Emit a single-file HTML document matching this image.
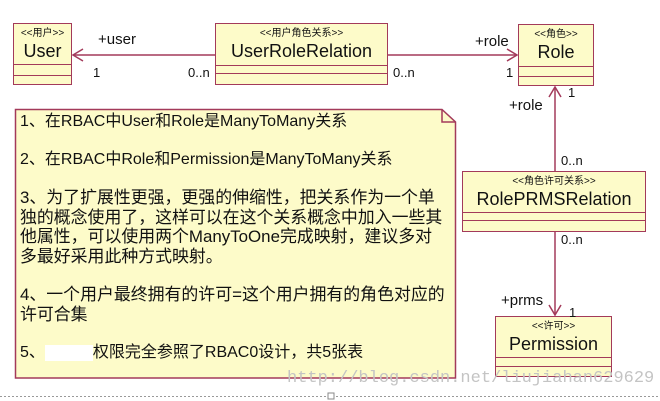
<!DOCTYPE html>
<html><head><meta charset="utf-8"><style>
body{margin:0;width:660px;height:401px;background:#fff;position:relative;overflow:hidden;font-family:"Liberation Sans","Noto Sans CJK SC",sans-serif;}
.b{position:absolute;background:#fdfbc9;border:1.5px solid #a33a5a;box-sizing:border-box;text-align:center;color:#111;}
.st{font-size:10px;line-height:11px;margin-top:4px;}
.nm{font-size:18px;line-height:19px;margin-top:3px;}
.sep{position:absolute;left:0;right:0;border-top:1.5px solid #a33a5a;}
.l{position:absolute;font-size:14px;color:#111;white-space:nowrap;}
.nt{position:absolute;left:20px;font-size:16px;color:#111;white-space:nowrap;line-height:19.5px;}
.c{font-size:16.9px;}
</style></head><body>
<div class="b" style="left:13px;top:23px;width:59px;height:62px"><div class="st">&lt;&lt;用户&gt;&gt;</div><div class="nm">User</div><div class="sep" style="top:40px"></div><div class="sep" style="top:51px"></div></div>
<div class="b" style="left:215px;top:23px;width:173px;height:62px"><div class="st">&lt;&lt;用户角色关系&gt;&gt;</div><div class="nm">UserRoleRelation</div><div class="sep" style="top:41px"></div><div class="sep" style="top:49px"></div></div>
<div class="b" style="left:518px;top:24px;width:76px;height:62px"><div class="st">&lt;&lt;角色&gt;&gt;</div><div class="nm">Role</div><div class="sep" style="top:41px"></div><div class="sep" style="top:51px"></div></div>
<div class="b" style="left:462px;top:171px;width:184px;height:61px"><div class="st">&lt;&lt;角色许可关系&gt;&gt;</div><div class="nm">RolePRMSRelation</div><div class="sep" style="top:40px"></div><div class="sep" style="top:48px"></div></div>
<div class="b" style="left:495px;top:316px;width:117px;height:61px"><div class="st">&lt;&lt;许可&gt;&gt;</div><div class="nm">Permission</div><div class="sep" style="top:40px"></div><div class="sep" style="top:49px"></div></div>
<svg width="660" height="401" style="position:absolute;left:0;top:0">
<g stroke="#a33a5a" stroke-width="1.5" fill="none">
<line x1="215" y1="55" x2="73" y2="55"/><polyline points="83,49 73,55 83,61"/>
<line x1="388" y1="55" x2="517" y2="55"/><polyline points="507,49 517,55 507,61"/>
<line x1="555" y1="171" x2="555" y2="87"/><polyline points="549,97 555,87 561,97"/>
<line x1="555" y1="232" x2="555" y2="315"/><polyline points="549,305 555,315 561,305"/>
<path d="M15.5,109.5 H442 L455.5,122 V378 H15.5 Z" fill="#fdfbc9"/>
<polyline points="442,109.5 442,122 455.5,122"/>
</g>
<line x1="0" y1="396.5" x2="660" y2="396.5" stroke="#999" stroke-dasharray="2,2"/>
<rect x="328" y="393" width="6" height="6" fill="#fff" stroke="#888"/>
</svg>
<div class="l" style="left:98px;top:31px;font-size:15px">+user</div>
<div class="l" style="left:93px;top:65px;font-size:13px">1</div>
<div class="l" style="left:188px;top:65px;font-size:13px">0..n</div>
<div class="l" style="left:393px;top:65px;font-size:13px">0..n</div>
<div class="l" style="left:475px;top:33px;font-size:15px">+role</div>
<div class="l" style="left:506px;top:65px;font-size:13px">1</div>
<div class="l" style="left:568px;top:85px;font-size:13px">1</div>
<div class="l" style="left:509px;top:97px;font-size:15px">+role</div>
<div class="l" style="left:561px;top:153px;font-size:13px">0..n</div>
<div class="l" style="left:561px;top:232px;font-size:13px">0..n</div>
<div class="l" style="left:501px;top:292px;font-size:15px">+prms</div>
<div class="l" style="left:569px;top:305px;font-size:13px">1</div>
<div class="nt" style="top:112px">1、在RBAC中User和Role是ManyToMany关系</div>
<div class="nt" style="top:150px">2、在RBAC中Role和Permission是ManyToMany关系</div>
<div class="nt c" style="top:188px">3、为了扩展性更强，更强的伸缩性，把关系作为一个单<br>独的概念使用了，这样可以在这个关系概念中加入一些其<br>他属性，可以使用两个ManyToOne完成映射，建议多对<br>多最好采用此种方式映射。</div>
<div class="nt c" style="top:285px">4、一个用户最终拥有的许可=这个用户拥有的角色对应的<br>许可合集</div>
<div class="nt" style="top:343px">5、<span style="display:inline-block;width:48px;height:16px;background:#fff;vertical-align:middle"></span>权限完全参照了RBAC0设计，共5张表</div>
<div class="l" style="left:287px;top:369px;font-family:'Liberation Mono',monospace;font-size:17px;color:#c4c4c4">http://blog.csdn.net/liujiahan629629</div>
</body></html>
